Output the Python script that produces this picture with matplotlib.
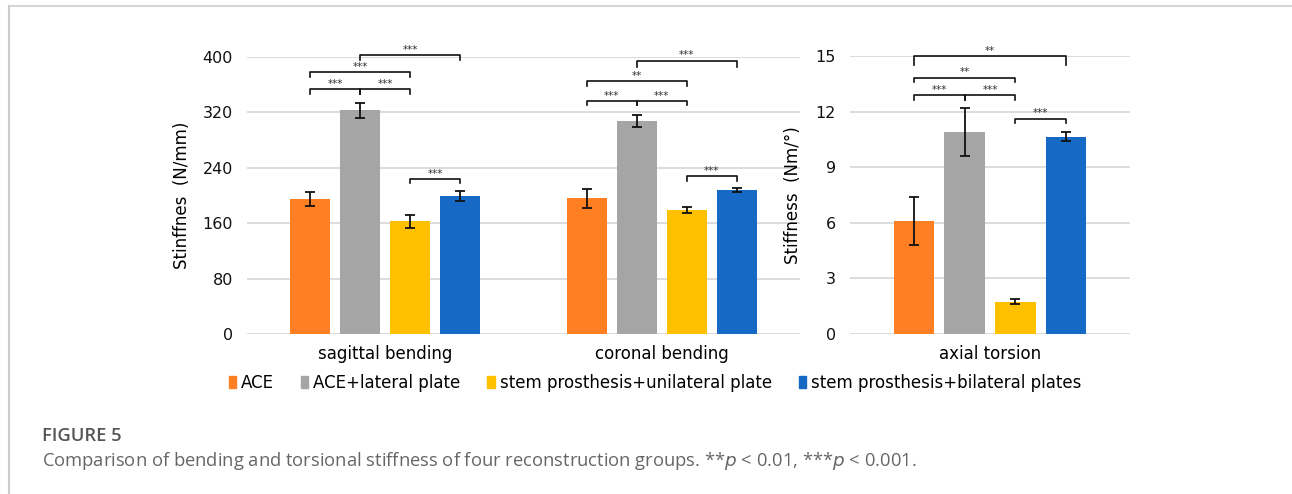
import matplotlib
matplotlib.use("Agg")
import matplotlib.pyplot as plt
from matplotlib.patches import Rectangle
from matplotlib.lines import Line2D
import numpy as np

plt.rcParams['font.family'] = ['DejaVu Sans']

groups = ["ACE", "ACE+lateral plate", "stem prosthesis+unilateral plate",
          "stem prosthesis+bilateral plates"]
colors = ["#FF7F22", "#A5A5A5", "#FFC000", "#1769C6"]

bend_categories = ["sagittal bending", "coronal bending"]
sagittal_vals = [195, 323, 163, 199]
sagittal_err = [10, 11, 9.5, 7]
coronal_vals = [196, 307, 179, 208]
coronal_err = [14, 8.7, 4, 3.4]

torsion_categories = ["axial torsion"]
torsion_vals = [6.1, 10.9, 1.75, 10.65]
torsion_err = [1.3, 1.3, 0.14, 0.23]

bend_ticks = [0, 80, 160, 240, 320, 400]
torsion_ticks = [0, 3, 6, 9, 12, 15]

# significance brackets: (category index, bar i, bar j, y line, leg drop, label)
sag_sig = [(0, 0, 1, 353.4, 7.4, "***"), (0, 1, 2, 353.4, 7.4, "***"),
           (0, 0, 2, 377.9, 7.2, "***"), (0, 1, 3, 402.9, 7.2, "***"),
           (0, 2, 3, 223.8, 6.2, "***")]
cor_sig = [(1, 0, 1, 336.5, 5.8, "***"), (1, 1, 2, 336.5, 5.8, "***"),
           (1, 0, 2, 365.3, 7.3, "**"), (1, 1, 3, 394.7, 8.7, "***"),
           (1, 2, 3, 228.2, 6.8, "***")]
tor_sig = [(0, 0, 3, 15.0, 0.5, "**"), (0, 0, 2, 13.83, 0.25, "**"),
           (0, 0, 1, 12.88, 0.25, "***"), (0, 1, 2, 12.88, 0.25, "***"),
           (0, 2, 3, 11.62, 0.25, "***")]

W, H = 1292, 494
fig = plt.figure(figsize=(W / 100, H / 100), dpi=100)

step = 0.181
bw = 0.145
offsets = (np.arange(4) - 1.5) * step

def style_axes(ax, ticks):
    for s in ax.spines.values():
        s.set_visible(False)
    ax.set_yticks(ticks)
    ax.set_ylim(ticks[0], ticks[-1])
    ax.yaxis.grid(True, color="#d9d9d9", linewidth=1.3)
    ax.set_axisbelow(True)
    ax.tick_params(axis='y', length=0, pad=10, labelsize=11.5, labelcolor="#111111")
    ax.tick_params(axis='x', length=0, pad=8, labelsize=12, labelcolor="#000000")

def draw_bars(ax, xpos, vals, errs):
    for k in range(4):
        ax.bar(xpos + offsets[k], vals[k], width=bw, color=colors[k], zorder=2)
        ax.errorbar(xpos + offsets[k], vals[k], yerr=errs[k], fmt='none',
                    ecolor="#111111", elinewidth=1.3, capsize=3.5, capthick=1.3, zorder=3)

def draw_sig(ax, sigs, xcenters, txt_off):
    for (c, i, j, y, d, lab) in sigs:
        x1 = xcenters[c] + offsets[i]
        x2 = xcenters[c] + offsets[j]
        ax.plot([x1, x1, x2, x2], [y - d, y, y, y - d], color="#111111",
                linewidth=1.2, clip_on=False, zorder=4)
        ax.text((x1 + x2) / 2, y + txt_off, lab, ha='center', va='bottom',
                fontsize=7.5, color="#333333", clip_on=False)

# left axes
ax1 = fig.add_axes([247 / W, 1 - 334 / H, 553 / W, 277 / H])
xb = np.arange(len(bend_categories))
draw_bars(ax1, xb[0], sagittal_vals, sagittal_err)
draw_bars(ax1, xb[1], coronal_vals, coronal_err)
ax1.set_xlim(-0.5, 1.5)
style_axes(ax1, bend_ticks)
ax1.set_xticks(xb)
ax1.set_xticklabels(bend_categories)
draw_sig(ax1, sag_sig, xb, 0.5)
draw_sig(ax1, cor_sig, xb, 0.5)
ax1.set_ylabel("Stinffnes  (N/mm)", fontsize=12, labelpad=8, color="#000000")

# right axes
ax2 = fig.add_axes([850 / W, 1 - 334 / H, 280 / W, 278 / H])
xt = np.arange(len(torsion_categories))
draw_bars(ax2, xt[0], torsion_vals, torsion_err)
ax2.set_xlim(-0.5, 0.5)
style_axes(ax2, torsion_ticks)
ax2.set_xticks(xt)
ax2.set_xticklabels(torsion_categories)
draw_sig(ax2, tor_sig, xt, 0.02)
ax2.set_ylabel("Stiffness  (Nm/°)", fontsize=12, labelpad=10, color="#000000")

# legend
handles = [Rectangle((0, 0), 1, 1, color=c) for c in colors]
fig.legend(handles, groups, loc='center', bbox_to_anchor=(655 / W, 1 - 383 / H),
           ncol=4, frameon=False, fontsize=12, handlelength=0.45, handleheight=0.7,
           handletextpad=0.3, columnspacing=1.6)

# frame lines
fig.add_artist(Line2D([9 / W, 1], [1 - 6 / H, 1 - 6 / H], color="#d6d6d6", linewidth=1.5))
fig.add_artist(Line2D([9 / W, 9 / W], [0, 1 - 6 / H], color="#cccccc", linewidth=1.5))

# caption
fig.text(42 / W, 1 - 436 / H, "FIGURE 5", fontsize=13.2, color="#555555",
         va='center', ha='left', fontweight='semibold', family=['Open Sans', 'DejaVu Sans'])
fig.text(42 / W, 1 - 461 / H,
         r"Comparison of bending and torsional stiffness of four reconstruction groups. **$\it{p}$ < 0.01, ***$\it{p}$ < 0.001.",
         fontsize=13.2, color="#666666", va='center', ha='left', family=['Open Sans', 'DejaVu Sans'])

fig.savefig("out.png", dpi=100)
